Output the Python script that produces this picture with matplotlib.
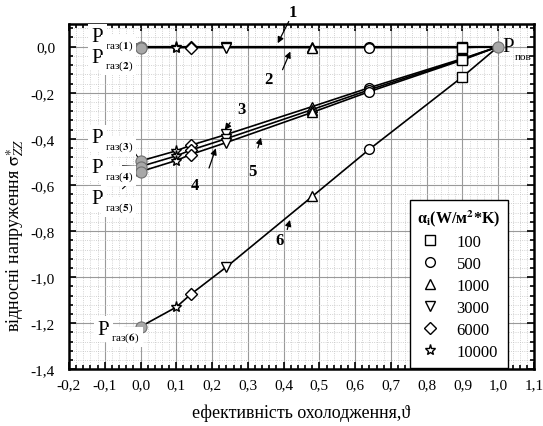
import numpy as np
import matplotlib
matplotlib.use("Agg")
import matplotlib.pyplot as plt
from matplotlib.ticker import MultipleLocator, FuncFormatter
from matplotlib.lines import Line2D

plt.rcParams['font.family'] = ['Liberation Serif', 'DejaVu Serif']
plt.rcParams['mathtext.fontset'] = 'stix'

# efficiency values at which each alpha marker sits (x = 0 gas, x = 1 surface)
alpha_labels = ['100', '500', '1000', '3000', '6000', '10000']
alpha_markers = ['s', 'o', '^', 'v', 'D', '*']
alpha_x = [0.9, 0.64, 0.48, 0.24, 0.14, 0.1]

# curves: value at gas point, values at the alpha markers, value at surface
curve1 = [0.0, 0.0, 0.0, 0.0, 0.0, 0.0, 0.0, 0.0]
curve2 = [-0.004, -0.004, -0.004, -0.004, -0.004, -0.004, -0.004, 0.0]
curve3 = [-0.496, -0.052, -0.178, -0.26, -0.381, -0.428, -0.452, 0.0]
curve4 = [-0.52, -0.055, -0.187, -0.273, -0.399, -0.449, -0.474, 0.0]
curve5 = [-0.542, -0.058, -0.195, -0.285, -0.416, -0.468, -0.494, 0.0]
curve6 = [-1.215, -0.131, -0.445, -0.65, -0.956, -1.075, -1.13, 0.0]
curves = [curve1, curve2, curve3, curve4, curve5, curve6]
curve_lw = [1.6, 1.2, 1.2, 1.2, 1.2, 1.2]


def msize(mk):
    return 8 if mk == '*' else (6 if mk == 'D' else 7)


fig = plt.figure(figsize=(5.43, 4.27), dpi=100)
ax = fig.add_axes([0.127, 0.1326, 0.8564, 0.8098])

for vals, lw in zip(curves, curve_lw):
    xs = [0.0] + alpha_x + [1.0]
    order = np.argsort(xs)
    ax.plot(np.array(xs)[order], np.array(vals)[order], color='black', lw=lw, zorder=3)
    for xm, ym, mk in zip(alpha_x, vals[1:7], alpha_markers):
        ax.plot(xm, ym, marker=mk, ms=msize(mk), mfc='white', mec='black', mew=1.0,
                ls='none', zorder=4)
    ax.plot(0.0, vals[0], marker='o', ms=8, mfc='#a8a8a8', mec='#707070', mew=0.8, zorder=5)
ax.plot(1.0, 0.0, marker='o', ms=8, mfc='#a8a8a8', mec='#707070', mew=0.8, zorder=5)

ax.set_xlim(-0.2, 1.1)
ax.set_ylim(-1.4, 0.1)
ax.xaxis.set_major_locator(MultipleLocator(0.1))
ax.xaxis.set_minor_locator(MultipleLocator(0.02))
ax.yaxis.set_major_locator(MultipleLocator(0.2))
ax.yaxis.set_minor_locator(MultipleLocator(0.04))
fmt = FuncFormatter(lambda v, p: f"{v:.1f}".replace('.', ',').replace('-0,0', '0,0'))
ax.xaxis.set_major_formatter(fmt)
ax.yaxis.set_major_formatter(fmt)
ax.tick_params(which='both', direction='in', top=True, right=True, labelsize=11, width=1.2)
ax.tick_params(which='major', length=5)
ax.tick_params(which='minor', length=3)
ax.tick_params(axis='x', which='major', pad=6)
ax.tick_params(axis='y', which='major', pad=10)
ax.grid(which='major', color='#9a9a9a', lw=0.8, ls='-', zorder=0)
ax.grid(which='minor', color='#c4c4c4', lw=0.6, ls=':', zorder=0)
ax.set_axisbelow(True)
for s in ax.spines.values():
    s.set_linewidth(1.8)

ax.set_xlabel('ефективність охолодження,ϑ', fontsize=13, labelpad=9)
ax.set_ylabel(r'відносні напруження $\mathrm{\sigma}^{\ast}_{ZZ}$', fontsize=13)
ax.yaxis.set_label_coords(-0.092, 0.39)

# curve numbers with arrows
numbers = ['1', '2', '3', '4', '5', '6']
num_text = [(0.426, 0.15), (0.357, -0.14), (0.283, -0.27), (0.152, -0.6), (0.313, -0.54), (0.39, -0.84)]
num_tail = [(0.418, 0.12), (0.394, -0.111), (0.255, -0.32), (0.189, -0.538), (0.326, -0.451), (0.408, -0.805)]
num_tip = [(0.38, 0.004), (0.422, -0.01), (0.231, -0.371), (0.213, -0.43), (0.339, -0.383), (0.42, -0.74)]
for n, tp, tl, tt in zip(numbers, num_text, num_tail, num_tip):
    ax.text(tp[0], tp[1], n, fontsize=12, fontweight='bold', ha='center', va='center', zorder=6)
    ax.annotate('', xy=tt, xytext=tl,
                arrowprops=dict(arrowstyle='-|>', color='black', lw=0.9, mutation_scale=9), zorder=6)

# P labels: (P position, leader start, leader end, subscript number)
white = dict(facecolor='white', edgecolor='none', pad=2.5)
p_labels = [
    ((-0.12, 0.042), (-0.025, 0.025), (0.0, 0.0), '1'),
    ((-0.12, -0.045), (-0.035, -0.045), (0.0, 0.0), '2'),
    ((-0.12, -0.396), (-0.025, -0.44), (0.0, -0.496), '3'),
    ((-0.12, -0.526), (-0.05, -0.517), (0.0, -0.52), '4'),
    ((-0.12, -0.66), (-0.05, -0.616), (0.0, -0.542), '5'),
    ((-0.103, -1.225), (-0.045, -1.215), (0.0, -1.215), '6'),
]
for (px, py), l0, l1, num in p_labels:
    ax.plot([l0[0], l1[0]], [l0[1], l1[1]], color='black', lw=0.8, zorder=4)
    ax.text(px, py, 'P', fontsize=15, ha='center', va='center', bbox=white, zorder=5)
    ax.text(px + 0.02, py - 0.035, r'газ($\mathbf{' + num + r'}$)', fontsize=8,
            ha='left', va='center', bbox=white, zorder=5)
ax.text(1.029, 0.0, 'P', fontsize=15, ha='center', va='center', zorder=5)
ax.text(1.046, -0.041, 'пов', fontsize=8, ha='left', va='center', zorder=5)

handles = [Line2D([], [], marker=m, ls='none', mfc='white', mec='black', mew=1.0, ms=msize(m))
           for m in alpha_markers]
leg = ax.legend(handles, alpha_labels, loc='lower left', bbox_to_anchor=(0.733, 0.005),
                title=r'α$_{\mathbf{i}}$(W/м$^{\mathbf{2}}$*K)',
                title_fontproperties={'weight': 'bold', 'size': 11.5},
                fontsize=12, frameon=True, fancybox=False, framealpha=1, edgecolor='black',
                handlelength=1.2, handletextpad=1.0, labelspacing=0.36, borderpad=0.45,
                borderaxespad=0)
leg.get_frame().set_linewidth(1.0)
leg.set_zorder(7)

fig.savefig('out.png', dpi=100)
